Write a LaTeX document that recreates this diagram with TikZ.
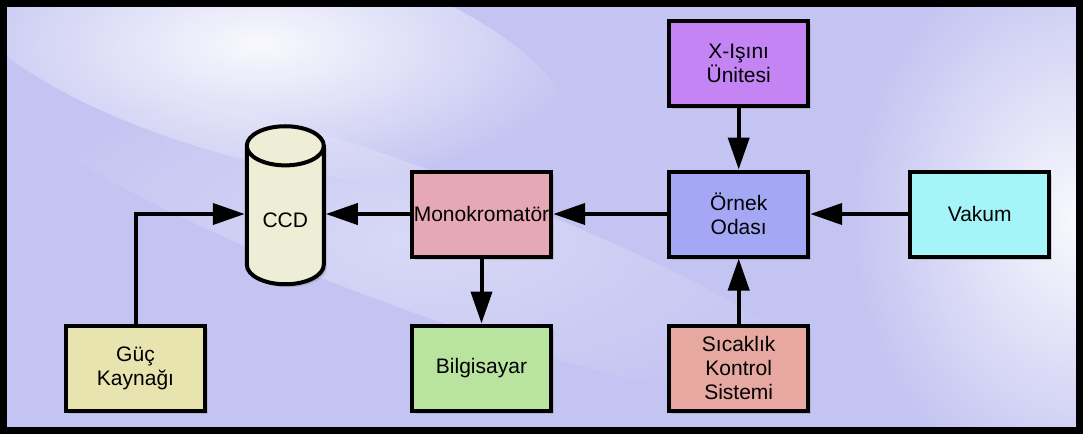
\documentclass[tikz,border=0pt]{standalone}
\usepackage{fontspec}
\setmainfont{Liberation Sans}
\usetikzlibrary{arrows.meta}
\usetikzlibrary{shapes.geometric, positioning, shadows, fadings}

\definecolor{lavbg}{RGB}{196,196,242}
\definecolor{monocol}{RGB}{230,168,180}
\definecolor{pccol}{RGB}{184,228,160}
\definecolor{xraycol}{RGB}{196,132,244}
\definecolor{ornekcol}{RGB}{164,168,244}
\definecolor{sicakcol}{RGB}{230,168,160}
\definecolor{vakumcol}{RGB}{164,244,248}
\definecolor{guccol}{RGB}{232,228,176}
\definecolor{ccdcol}{RGB}{238,238,214}
\tikzfading[name=glow, inner color=transparent!0, outer color=transparent!100]

\begin{document}
\begin{tikzpicture}[->,>={Triangle[length=32pt,width=21pt]}, x=1pt, y=-1pt,
  line width=4pt, node distance=65pt,
  sq node/.style={rectangle, draw, fill=#1, minimum width=139pt, minimum height=85pt,
    inner sep=2pt, align=center, font=\fontsize{21}{24}\selectfont,
    drop shadow={opacity=0.3, shadow xshift=3pt, shadow yshift=-3pt}},
  cyl node/.style={cylinder, shape border rotate=90, aspect=0.75, draw, fill=ccdcol,
    minimum width=77pt, minimum height=158pt, font=\fontsize{21}{24}\selectfont,
    drop shadow={opacity=0.3, shadow xshift=3pt, shadow yshift=-3pt}}]
  \useasboundingbox (0,0) rectangle (1083,434);
  % background
  \fill[lavbg] (0,0) rectangle (1083,434);
  \fill[white, path fading=glow, opacity=0.9, rotate around={-15:(260,50)}] (260,50) ellipse (320pt and 110pt);
  \fill[white, path fading=glow, opacity=0.9] (1080,220) ellipse (230pt and 280pt);
  \fill[white, path fading=glow, opacity=0.35, rotate around={-20:(420,240)}] (420,240) ellipse (440pt and 70pt);
  \draw[line width=7pt] (3.5,3.5) rectangle (1079.5,430.5);

  \node[sq node=monocol] (mono) at (481.5,214) {Monokromatör};
  \node[sq node=ornekcol, right=114pt of mono] (ornek) {Örnek\\Odası};
  \node[sq node=vakumcol, right=98pt of ornek] (vakum) {Vakum};
  \node[sq node=xraycol, above=62pt of ornek] (xray) {X-Işını\\Ünitesi};
  \node[sq node=sicakcol, below=65pt of ornek] (sicak) {Sıcaklık\\Kontrol\\Sistemi};
  \node[sq node=pccol, below=65pt of mono] (pc) {Bilgisayar};
  \node[cyl node, left=84pt of mono, yshift=-6pt] (ccd) {CCD};
  \node[sq node=guccol] (guc) at (135.5,368.5) {Güç\\Kaynağı};

  \path
    (ornek) edge (mono)
    (vakum) edge (ornek)
    (xray) edge (ornek)
    (sicak) edge (ornek)
    (mono) edge (pc)
    (mono) edge (ccd.east |- mono);
  \draw (guc.north) |- (ccd.west |- mono);
\end{tikzpicture}
\end{document}
